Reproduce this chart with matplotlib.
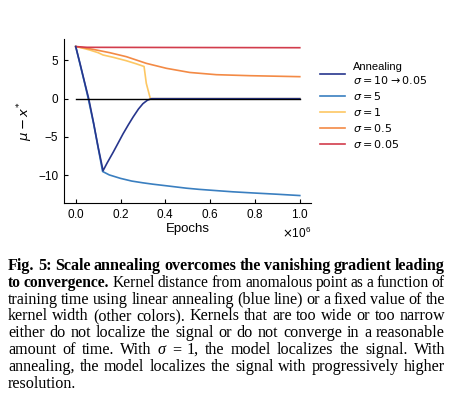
import matplotlib
matplotlib.use("Agg")
import matplotlib.pyplot as plt
import numpy as np

plt.rcParams['font.family'] = ['Liberation Sans', 'DejaVu Sans']
plt.rcParams['mathtext.fontset'] = 'dejavusans'

# epochs (in millions) and distances
anneal_x = [0.0, 0.02, 0.04, 0.058, 0.08, 0.10, 0.122, 0.14, 0.167, 0.19, 0.211,
            0.235, 0.256, 0.28, 0.30, 0.32, 0.338, 1.0]
anneal_y = [6.8, 4.5, 2.1, 0.0, -3.2, -6.3, -9.4, -8.4, -7.0, -5.75, -4.6,
            -3.4, -2.4, -1.35, -0.65, -0.2, 0.0, 0.0]

s5_x = [0.0, 0.02, 0.04, 0.056, 0.08, 0.10, 0.12, 0.15, 0.2, 0.25, 0.3, 0.345,
        0.4, 0.494, 0.55, 0.643, 0.7, 0.79, 0.9, 1.0]
s5_y = [6.8, 4.4, 2.0, 0.0, -3.3, -6.4, -9.5, -9.95, -10.4, -10.75, -10.98, -11.16,
        -11.35, -11.68, -11.83, -12.03, -12.15, -12.3, -12.47, -12.64]

s1_x = [0.0, 0.03, 0.0625, 0.1, 0.122, 0.167, 0.226, 0.27, 0.305, 0.315, 0.333, 1.0]
s1_y = [6.8, 6.6, 6.35, 6.0, 5.7, 5.4, 4.95, 4.55, 4.2, 2.0, 0.0, 0.0]

s05_x = [0.0, 0.077, 0.152, 0.226, 0.315, 0.405, 0.509, 0.628, 0.777, 1.0]
s05_y = [6.8, 6.44, 6.0, 5.48, 4.61, 3.96, 3.42, 3.13, 3.0, 2.87]

s005_x = [0.0, 0.05, 1.0]
s005_y = [6.8, 6.7, 6.65]

labels = ['Annealing\n$\\sigma = 10 \\rightarrow 0.05$', '$\\sigma = 5$', '$\\sigma = 1$',
          '$\\sigma = 0.5$', '$\\sigma = 0.05$']
colors = ['#27368d', '#3a7fc0', '#fdc763', '#f38a45', '#d23c4c']

fig = plt.figure(figsize=(4.56, 4.01), dpi=100)
ax = fig.add_axes([0.140, 0.494, 0.542, 0.409])

ax.plot([0, 1e6], [0, 0], color='black', lw=1.0, zorder=3)
ax.plot(np.array(s5_x) * 1e6, s5_y, color=colors[1], lw=1.2, zorder=2)
ax.plot(np.array(s1_x) * 1e6, s1_y, color=colors[2], lw=1.2, zorder=2)
ax.plot(np.array(s05_x) * 1e6, s05_y, color=colors[3], lw=1.2, zorder=2)
ax.plot(np.array(s005_x) * 1e6, s005_y, color=colors[4], lw=1.2, zorder=2)
ax.plot(np.array(anneal_x) * 1e6, anneal_y, color=colors[0], lw=1.2, zorder=2.5)

# legend handles in the listed order
handles = [plt.Line2D([], [], color=c, lw=1.2) for c in colors]
ax.legend(handles, labels, loc='upper left', bbox_to_anchor=(1.02, 0.885),
          frameon=False, fontsize=8, handlelength=2.2, handletextpad=0.7,
          labelspacing=0.35, borderaxespad=0)

ax.set_xlim(-0.053e6, 1.05e6)
ax.set_ylim(-13.6, 7.8)
ax.set_xticks(np.arange(0, 1.01, 0.2) * 1e6)
ax.set_yticks([5, 0, -5, -10])
ax.ticklabel_format(axis='x', style='sci', scilimits=(0, 0), useMathText=True)
ax.xaxis.get_offset_text().set_fontsize(8.5)
for s in ['top', 'right']:
    ax.spines[s].set_visible(False)
ax.tick_params(direction='in', length=3, width=0.8, labelsize=8.5, pad=4)
ax.set_xlabel('Epochs', fontsize=9.5, labelpad=1)
ax.set_ylabel('$\\mu - x^{*}$', fontsize=9.5, labelpad=2)

# caption, justified
cap_lines = [
    [('Fig. 5: Scale annealing overcomes the vanishing gradient leading', 'bold')],
    [('to convergence.', 'bold'), ('Kernel distance from anomalous point as a function of', 'normal')],
    [('training time using linear annealing (blue line) or a fixed value of the', 'normal')],
    [('kernel width (other colors). Kernels that are too wide or too narrow', 'normal')],
    [('either do not localize the signal or do not converge in a reasonable', 'normal')],
    [('amount of time. With', 'normal'), ('σ', 'italic'), ('= 1, the model localizes the signal. With', 'normal')],
    [('annealing, the model localizes the signal with progressively higher', 'normal')],
    [('resolution.', 'normal')],
]
left_px, right_px = 8, 445
base0, step = 270, 16.8
renderer = fig.canvas.get_renderer()
W, H = 456, 401
min_gap = 3.0
for i, line in enumerate(cap_lines):
    words = []
    for txt, sty in line:
        for w in txt.split(' '):
            words.append((w, sty))
    ybase = 1 - (base0 + i * step) / H
    fs = 11.6
    while True:
        arts = []
        for w, sty in words:
            t = fig.text(0, ybase, w, fontsize=fs, family='Liberation Serif',
                         fontweight='bold' if sty == 'bold' else 'normal',
                         fontstyle='italic' if sty == 'italic' else 'normal',
                         va='baseline', ha='left')
            arts.append(t)
        widths = [a.get_window_extent(renderer).width for a in arts]
        if len(arts) == 1:
            gap = 0
            break
        gap = (right_px - left_px - sum(widths)) / (len(arts) - 1)
        if gap >= min_gap or i == len(cap_lines) - 1:
            break
        for a in arts:
            a.remove()
        fs -= 0.1
    if i == len(cap_lines) - 1:
        gap = fs * 0.25 * 100 / 72
    x = left_px
    for a, w in zip(arts, widths):
        a.set_x(x / W)
        x += w + gap

fig.savefig('out.png', dpi=100)
